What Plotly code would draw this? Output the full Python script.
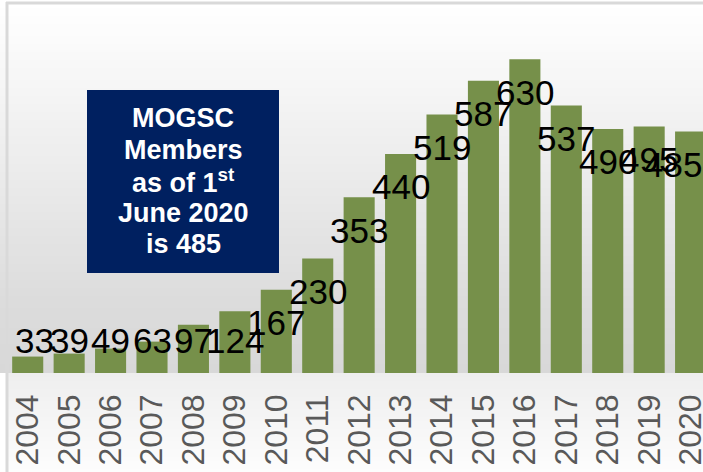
import plotly.graph_objects as go

# ---- data ----
years = [str(y) for y in range(2004, 2021)]
members = [33, 39, 49, 63, 97, 124, 167, 230, 353, 440, 519, 587, 630, 537, 490, 495, 485]
box_lines = ["MOGSC", "Members", "as of 1<sup>st</sup>", "June 2020", "is 485"]

# ---- geometry (pixels) ----
W, H = 703, 472
L, T = 7, 4
BASE = 373
PW = W - L
PH = BASE - T
YMAX = 741.0
PITCH = 41.43
XR = (-0.5, -0.5 + PW / PITCH)


def px_x(px):
    return (px - L) / PW


def px_y(py):
    return (BASE - py) / PH


fig = go.Figure()
fig.add_trace(go.Bar(
    x=list(range(len(years))), y=members,
    marker=dict(color="#76904a", line=dict(width=0)),
    width=0.75, hoverinfo="skip",
))

# background gradient bands
stops_up = [(4, 255), (100, 244), (200, 232), (300, 220), (373, 216)]
stops_dn = [(373, 238), (472, 253)]


def interp(stops, y):
    for (y0, c0), (y1, c1) in zip(stops[:-1], stops[1:]):
        if y0 <= y <= y1:
            return c0 + (c1 - c0) * (y - y0) / (y1 - y0)
    return stops[-1][1]


shapes = []
step = 4
y = 4
while y < BASE:
    y2 = min(y + step, BASE)
    c = int(round(interp(stops_up, (y + y2) / 2)))
    shapes.append(dict(type="rect", xref="paper", yref="paper", x0=px_x(0), x1=px_x(W),
                       y0=px_y(y2), y1=px_y(y), fillcolor=f"rgb({c},{c},{c})",
                       line=dict(width=0), layer="below"))
    y = y2
y = BASE
while y < H:
    y2 = min(y + step, H)
    c = int(round(interp(stops_dn, (y + y2) / 2)))
    shapes.append(dict(type="rect", xref="paper", yref="paper", x0=px_x(8), x1=px_x(W),
                       y0=px_y(y2), y1=px_y(y), fillcolor=f"rgb({c},{c},{c})",
                       line=dict(width=0), layer="below"))
    y = y2

# frame lines
shapes.append(dict(type="line", xref="paper", yref="paper", x0=px_x(7), x1=px_x(7),
                   y0=px_y(H), y1=px_y(2), line=dict(color="#d9d9d9", width=3)))
shapes.append(dict(type="line", xref="paper", yref="paper", x0=px_x(6), x1=px_x(W),
                   y0=px_y(3), y1=px_y(3), line=dict(color="#d9d9d9", width=3)))

# navy text box
shapes.append(dict(type="rect", xref="paper", yref="paper", x0=px_x(87), x1=px_x(279),
                   y0=px_y(273), y1=px_y(90), fillcolor="#002060", line=dict(width=0)))

annotations = []
FS = 35
for i, v in enumerate(members):
    txt = str(v)
    hw = len(txt) * 0.556 * FS / 2
    cx = L + (i - XR[0]) * PITCH
    shift = 0
    if cx - hw < 15:
        shift = 15 - (cx - hw)
    if cx + hw > 702:
        shift = 702 - (cx + hw)
    ly = max(v - 66, 66)
    annotations.append(dict(x=i, y=ly, xref="x", yref="y", text=txt, showarrow=False,
                            xanchor="center", yanchor="middle", xshift=shift,
                            font=dict(family="Liberation Sans, Arial", size=FS, color="#000000")))

LINE_TOP = 118
LINE_STEP = 31.5
for k, line in enumerate(box_lines):
    annotations.append(dict(
        xref="paper", yref="paper", x=px_x(183), y=px_y(LINE_TOP + k * LINE_STEP),
        xanchor="center", yanchor="middle", showarrow=False, text=line,
        font=dict(family="Liberation Sans, Arial", size=27, color="#ffffff", weight="bold"),
    ))

fig.update_layout(
    width=W, height=H,
    margin=dict(l=L, r=0, t=T, b=H - BASE, pad=0, autoexpand=False),
    paper_bgcolor="#ffffff", plot_bgcolor="rgba(0,0,0,0)",
    showlegend=False,
    shapes=shapes, annotations=annotations,
    xaxis=dict(range=list(XR), tickmode="array", tickvals=list(range(len(years))),
               ticktext=years, tickangle=-90, showgrid=False, zeroline=False,
               showline=False, ticks="", ticklabelstandoff=14, ticklabeloverflow="allow",
               automargin=False,
               tickfont=dict(family="Liberation Sans, Arial", size=32, color="#595959")),
    yaxis=dict(range=[0, YMAX], visible=False, showgrid=False, zeroline=False,
               automargin=False),
)

fig.write_html("out.html")
